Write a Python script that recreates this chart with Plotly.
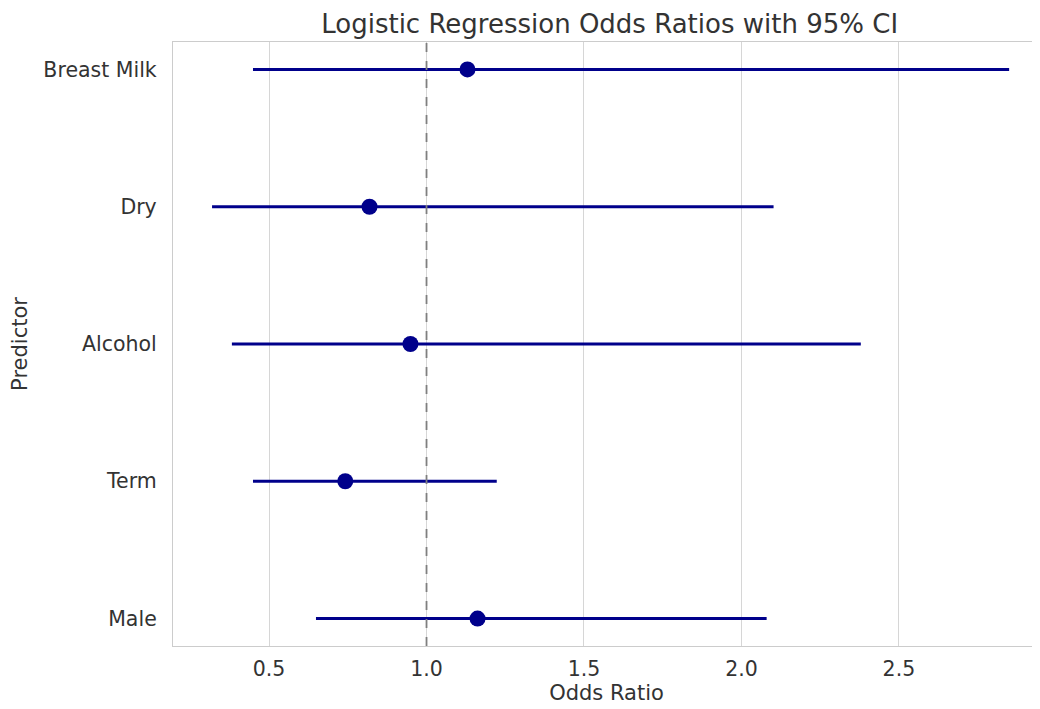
import plotly.graph_objects as go

predictors = ["Breast Milk", "Dry", "Alcohol", "Term", "Male"]
odds_ratio = [1.130, 0.819, 0.949, 0.742, 1.162]
ci_low = [0.449, 0.319, 0.382, 0.449, 0.649]
ci_high = [2.850, 2.102, 2.379, 1.223, 2.080]

ypos = list(range(len(predictors)))
err_plus = [h - o for h, o in zip(ci_high, odds_ratio)]
err_minus = [o - l for o, l in zip(odds_ratio, ci_low)]

navy = "#00008B"
fig = go.Figure()
fig.add_trace(go.Scatter(
    x=odds_ratio, y=ypos, mode="markers",
    marker=dict(color=navy, size=16),
    error_x=dict(type="data", symmetric=False, array=err_plus, arrayminus=err_minus,
                 color=navy, thickness=3, width=0),
    showlegend=False, hoverinfo="x+y",
))
fig.add_shape(type="line", x0=1.0, x1=1.0, y0=0, y1=1, xref="x", yref="paper",
              line=dict(color="#7f7f7f", width=1.8, dash="dash"), layer="above")

font = "DejaVu Sans, Arial, sans-serif"
fig.update_layout(
    width=1032, height=701,
    margin=dict(l=165, r=0, t=34, b=63),
    paper_bgcolor="white", plot_bgcolor="white",
    font=dict(family=font, color="#333333", size=20),
    title=dict(text="Logistic Regression Odds Ratios with 95% CI", x=0.583, xanchor="center",
               y=0.978, yanchor="middle", font=dict(size=26, color="#333333")),
    xaxis=dict(range=[0.195, 2.948], tickvals=[0.5, 1.0, 1.5, 2.0, 2.5], tickformat=".1f",
               showgrid=True, gridcolor="#d6d6d6", gridwidth=1.3, zeroline=False,
               showline=True, linecolor="#cccccc", linewidth=1.3, mirror=True,
               ticks="", ticklabelstandoff=4, tickfont=dict(size=20.5),
               title=dict(text="Odds Ratio", font=dict(size=21), standoff=4)),
    yaxis=dict(range=[4.2, -0.2], tickvals=ypos, ticktext=predictors,
               showgrid=False, zeroline=False,
               showline=True, linecolor="#cccccc", linewidth=1.3, mirror=False,
               ticks="", ticklabelstandoff=11, tickfont=dict(size=20.5),
               title=dict(text="Predictor", font=dict(size=21), standoff=14)),
)
fig.write_html("out.html")
